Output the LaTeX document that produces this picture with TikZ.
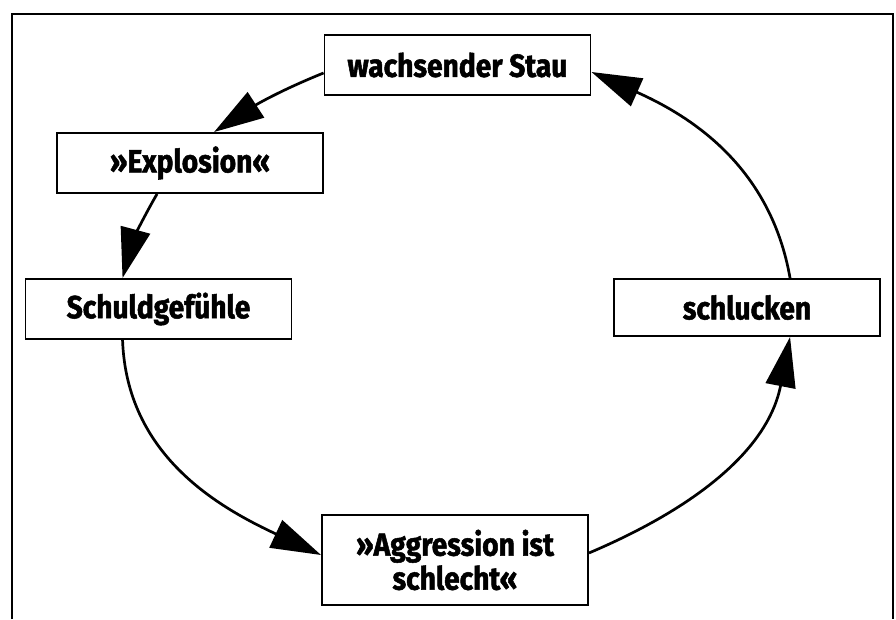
\documentclass[tikz,border=0pt]{standalone}
\usepackage{fontspec}
\setmainfont[FakeStretch=0.88, BoldFeatures={FakeBold=1.6}]{Fira Sans}
\usetikzlibrary{arrows.meta}
\begin{document}
\begin{tikzpicture}[x=1pt,y=1pt,
  box/.style={draw, line width=1.9pt, minimum height=60pt, minimum width=266pt,
    inner sep=0pt, align=center, font=\fontsize{32}{34}\selectfont\bfseries},
  flow/.style={line width=2.7pt, -{Triangle[length=50pt,width=30pt]}}]
\useasboundingbox (0,0) rectangle (896,619);
% open frame round the cycle
\draw[line width=1.9pt] (12,0) -- (12,605) -- (893,605) -- (893,0);

\node[box] (stau)   at (457.5,554) {wachsender Stau};
\node[box] (expl)   at (190,456)   {»Explosion«};
\node[box] (schuld) at (158.5,310) {Schuldgefühle};
\node[box, minimum height=57pt] (schluck) at (747,311.5) {schlucken};
\node[box, minimum height=90pt] (aggr) at (455,59) {»Aggression ist\\schlecht«};

\draw[flow] ([yshift=-8pt]stau.west) to[out=202, in=33] ([xshift=158pt]expl.north west);
\draw[flow] ([xshift=101pt]expl.south west) to[out=240, in=75] ([xshift=98pt]schuld.north west);
\draw[flow] ([xshift=98pt]schuld.south west) to[out=272, in=155] ([yshift=5pt]aggr.west);
\draw[flow] ([yshift=7pt]aggr.east) to[out=23, in=259] ([xshift=177pt]schluck.south west);
\draw[flow] ([xshift=177pt]schluck.north west) to[out=100, in=336] ([yshift=-7pt]stau.east);
\end{tikzpicture}
\end{document}
